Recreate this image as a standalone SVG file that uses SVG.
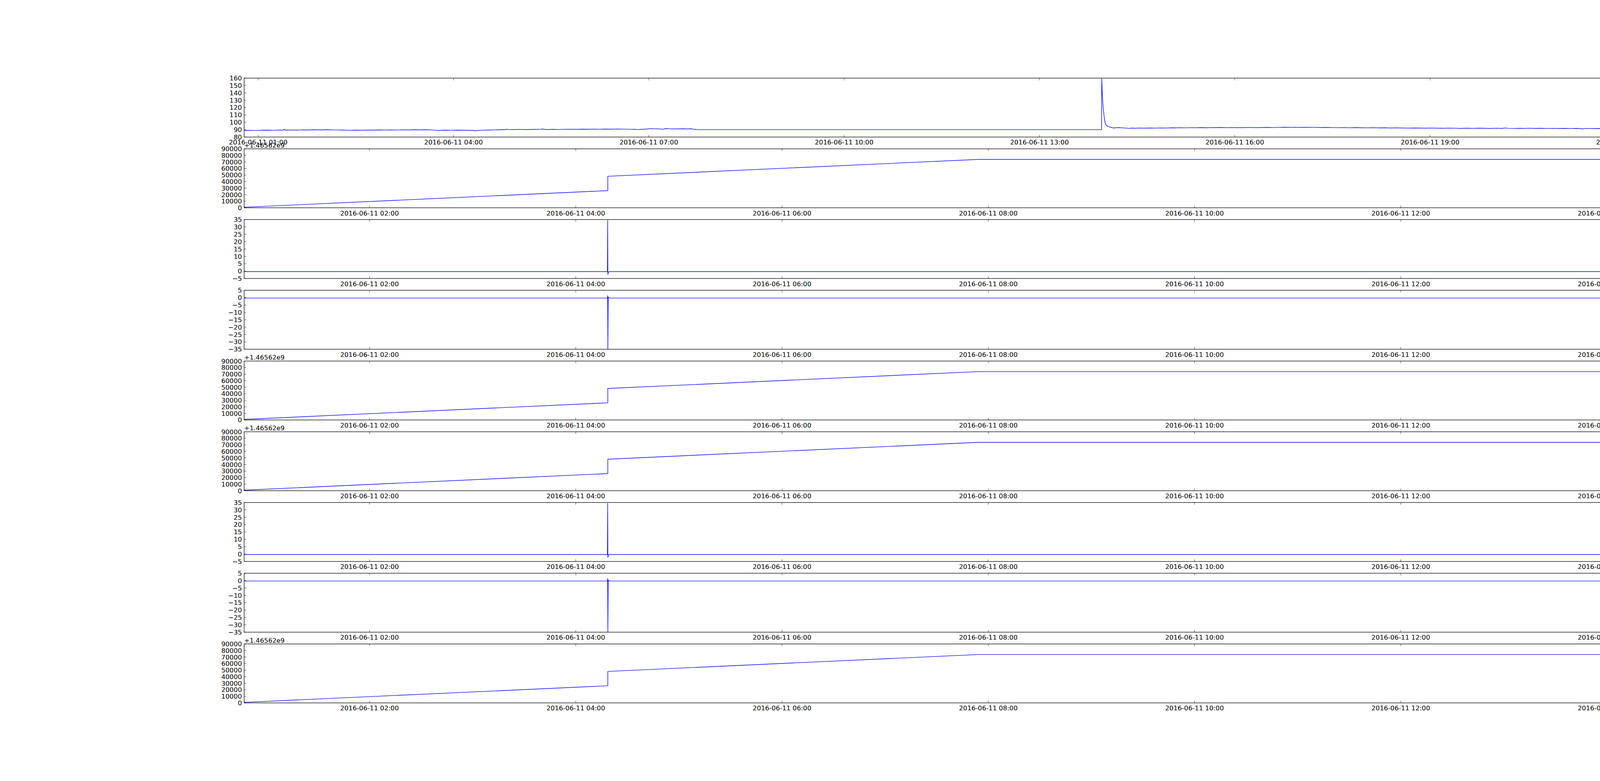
<svg xmlns="http://www.w3.org/2000/svg" width="5000" height="2000" viewBox="0 0 5000 2000">
<style>
.t{font-family:"DejaVu Sans","Liberation Sans",sans-serif;font-size:16.67px;fill:#000}
.yl{text-anchor:end}
.xl{text-anchor:middle}
.lg{font-family:"DejaVu Sans","Liberation Sans",sans-serif;font-size:20px;fill:#000}
.frame{fill:none;stroke:#000;stroke-width:1.3}
.tick{fill:none;stroke:#000;stroke-width:0.8}
.data{fill:none;stroke:#0000ff;stroke-width:1.4;stroke-linejoin:round}
.lbox{fill:#fff;stroke:#000;stroke-width:1.2}
.lline{stroke:#0000ff;stroke-width:1.4}
</style>
<defs>
<clipPath id="c"><rect x="625" y="0" width="3875" height="150.94"/></clipPath>
<path id="xt1" class="tick" d="M661,150.94v-5.56M661,0v5.56M1161,150.94v-5.56M1161,0v5.56M1661,150.94v-5.56M1661,0v5.56M2161,150.94v-5.56M2161,0v5.56M2661,150.94v-5.56M2661,0v5.56M3161,150.94v-5.56M3161,0v5.56M3661,150.94v-5.56M3661,0v5.56M4161,150.94v-5.56M4161,0v5.56"/>
<path id="xt2" class="tick" d="M946,150.94v-5.56M946,0v5.56M1474,150.94v-5.56M1474,0v5.56M2002,150.94v-5.56M2002,0v5.56M2530,150.94v-5.56M2530,0v5.56M3058,150.94v-5.56M3058,0v5.56M3586,150.94v-5.56M3586,0v5.56M4114,150.94v-5.56M4114,0v5.56"/>
<path id="yt9" class="tick" d="M625,0h5.56M4500,0h-5.56M625,18.87h5.56M4500,18.87h-5.56M625,37.74h5.56M4500,37.74h-5.56M625,56.6h5.56M4500,56.6h-5.56M625,75.47h5.56M4500,75.47h-5.56M625,94.34h5.56M4500,94.34h-5.56M625,113.21h5.56M4500,113.21h-5.56M625,132.07h5.56M4500,132.07h-5.56M625,150.94h5.56M4500,150.94h-5.56"/>
<path id="yt10" class="tick" d="M625,0h5.56M4500,0h-5.56M625,16.77h5.56M4500,16.77h-5.56M625,33.54h5.56M4500,33.54h-5.56M625,50.31h5.56M4500,50.31h-5.56M625,67.08h5.56M4500,67.08h-5.56M625,83.86h5.56M4500,83.86h-5.56M625,100.63h5.56M4500,100.63h-5.56M625,117.4h5.56M4500,117.4h-5.56M625,134.17h5.56M4500,134.17h-5.56M625,150.94h5.56M4500,150.94h-5.56"/>
<g id="xl2" class="t xl">
<text x="946" y="170.44">2016-06-11 02:00</text>
<text x="1474" y="170.44">2016-06-11 04:00</text>
<text x="2002" y="170.44">2016-06-11 06:00</text>
<text x="2530" y="170.44">2016-06-11 08:00</text>
<text x="3058" y="170.44">2016-06-11 10:00</text>
<text x="3586" y="170.44">2016-06-11 12:00</text>
<text x="4114" y="170.44">2016-06-11 14:00</text>
</g>
<g id="yla" class="t yl">
<text x="619.4" y="6">90000</text>
<text x="619.4" y="22.77">80000</text>
<text x="619.4" y="39.54">70000</text>
<text x="619.4" y="56.31">60000</text>
<text x="619.4" y="73.08">50000</text>
<text x="619.4" y="89.86">40000</text>
<text x="619.4" y="106.63">30000</text>
<text x="619.4" y="123.4">20000</text>
<text x="619.4" y="140.17">10000</text>
<text x="619.4" y="156.94">0</text>
</g>
<g id="yld" class="t yl">
<text x="619.4" y="6">35</text>
<text x="619.4" y="24.87">30</text>
<text x="619.4" y="43.74">25</text>
<text x="619.4" y="62.6">20</text>
<text x="619.4" y="81.47">15</text>
<text x="619.4" y="100.34">10</text>
<text x="619.4" y="119.21">5</text>
<text x="619.4" y="138.07">0</text>
<text x="619.4" y="156.94">−5</text>
</g>
<g id="ylh" class="t yl">
<text x="619.4" y="6">5</text>
<text x="619.4" y="24.87">0</text>
<text x="619.4" y="43.74">−5</text>
<text x="619.4" y="62.6">−10</text>
<text x="619.4" y="81.47">−15</text>
<text x="619.4" y="100.34">−20</text>
<text x="619.4" y="119.21">−25</text>
<text x="619.4" y="138.07">−30</text>
<text x="619.4" y="156.94">−35</text>
</g>
<polyline id="la" class="data" points="625,149.54 1556,107.07 1556,70.27 2505,27.07 4103,27.07 4500,9.56"/>
<polyline id="ld" class="data" points="625,133.2 1555,133.2 1555.6,2.3 1556.2,140.6 1557.5,134.4 1560,133.2 4500,133.2"/>
<polyline id="lh" class="data" points="625,20 1555,20 1555.6,13.5 1556.2,152 1557,17.5 1559,19.6 1562,20 4500,20"/>
</defs>
<rect x="0" y="0" width="5000" height="2000" fill="#fff"/>

<g id="panel-1" transform="translate(0,200)">
<g clip-path="url(#c)">
<polyline class="data" points="625,134 640,133.6 655,134.1 670,133.5 685,133.2 700,133.6 715,133.1 726,133.4 728,130.8 730,133.2 745,132.9 760,133.2 775,132.6 790,132.8 805,132.3 820,132.7 835,132.2 850,132.6 865,132.9 880,133.3 895,133.6 910,133.2 925,133.5 940,133.1 955,133.3 970,132.8 985,133.1 1000,132.7 1015,132.9 1030,132.4 1045,132.7 1060,132.2 1075,132.5 1090,132.3 1105,132.6 1115,133.6 1120,134.3 1125,133.8 1140,133.3 1155,133.6 1170,133.2 1185,133.5 1200,133.8 1214,134 1217,135.2 1220,134.2 1235,133.4 1250,133 1265,132.6 1280,132.2 1295,131.8 1298,130.6 1301,131.6 1315,131.8 1330,131.4 1345,131.7 1360,131.5 1375,131.2 1385,130.9 1388,130.2 1391,131 1400,131.8 1415,131.3 1430,131.6 1445,131.1 1460,130.9 1475,131.3 1490,130.7 1505,131 1520,130.6 1535,130.9 1550,130.5 1565,130.8 1580,130.4 1595,130.6 1610,130.9 1625,131.2 1634,131.9 1640,131.3 1655,130.5 1667,129.4 1675,129.8 1690,130.1 1696,131.4 1700,130.2 1705,129.3 1715,129.9 1725,130.3 1738,130 1750,129.7 1760,130.2 1768,129.8 1775,130.8 1785,131.6 1791,132.1 2820,132.1 2820.5,0.9 2821.5,30 2823,60 2825,85 2827,102 2830,118 2834,122.5 2840,124.8 2846,126.5 2850,127.7 2856,127.2 2865,126.7 2872,127.4 2880,127.9 2890,128.6 2900,128 2906,128.5 2915,127.9 2930,128.3 2945,127.8 2957,128.1 2970,127.6 2985,127.9 3000,127.3 3008,127.5 3020,127.1 3035,127.4 3050,126.9 3059,127.1 3075,126.8 3090,127.2 3100,126.6 3110,126.8 3125,126.5 3140,126.9 3155,126.6 3170,127 3185,126.7 3200,126.4 3215,126.8 3230,126.5 3245,126.2 3260,126.6 3275,126.1 3289,125.8 3300,126.2 3315,125.9 3330,126.3 3345,126 3365,126.1 3380,126.5 3395,126.2 3410,126.6 3425,126.9 3440,126.7 3455,127.1 3470,126.8 3485,127.2 3500,127.4 3515,127.1 3530,127.5 3545,127.3 3560,127.7 3575,127.4 3590,127.8 3605,128.1 3620,127.7 3635,128 3650,128.3 3665,127.9 3680,128.2 3695,128.5 3710,128.1 3725,128.4 3740,128.7 3755,128.3 3770,128.6 3785,128.2 3800,128.5 3815,128.8 3830,128.4 3845,128.7 3855,127.6 3860,128.6 3875,128.9 3890,128.5 3900,128.7 3915,128.4 3930,128.8 3945,128.5 3960,128.9 3975,128.6 3990,129 4005,128.7 4020,129.1 4035,128.8 4048,129.2 4051,130.8 4054,129.1 4065,128.9 4080,129.3 4095,129 4110,129.4 4125,129.1 4140,129.5 4155,129.2 4164,129.6 4167,131 4170,129.4 4185,129.1 4200,128.8 4215,128.5 4230,128.2 4237,128 4250,128.4 4265,128.2 4280,128.6 4286,130.2 4290,128.5 4300,127.8 4307,127.3 4320,127.7 4335,127.9 4350,128.2 4365,128 4380,128.4 4391,128.3 4405,128.7 4420,128.9 4435,129.2 4450,129 4465,129.5 4480,129.7 4490,130.1 4500,130"/>
</g>
<rect class="frame" x="625" y="0" width="3875" height="150.94"/>
<use href="#xt1"/>
<use href="#yt9"/>
<g class="t yl">
<text x="619.4" y="6">160</text>
<text x="619.4" y="24.87">150</text>
<text x="619.4" y="43.74">140</text>
<text x="619.4" y="62.6">130</text>
<text x="619.4" y="81.47">120</text>
<text x="619.4" y="100.34">110</text>
<text x="619.4" y="119.21">100</text>
<text x="619.4" y="138.07">90</text>
<text x="619.4" y="156.94">80</text>
</g>
<g class="t xl">
<text x="661" y="170.44">2016-06-11 01:00</text>
<text x="1161" y="170.44">2016-06-11 04:00</text>
<text x="1661" y="170.44">2016-06-11 07:00</text>
<text x="2161" y="170.44">2016-06-11 10:00</text>
<text x="2661" y="170.44">2016-06-11 13:00</text>
<text x="3161" y="170.44">2016-06-11 16:00</text>
<text x="3661" y="170.44">2016-06-11 19:00</text>
<text x="4161" y="170.44">2016-06-11 22:00</text>
</g>
</g>

<g id="panel-2" transform="translate(0,381.13)">
<g clip-path="url(#c)"><use href="#la"/></g>
<rect class="frame" x="625" y="0" width="3875" height="150.94"/>
<use href="#xt2"/><use href="#yt10"/><use href="#yla"/><use href="#xl2"/>
<text class="t" x="625" y="-3.5">+1.46562e9</text>
<g id="legend-1"><rect class="lbox" x="4254.3" y="10.5" width="236.1" height="35.7"/><line class="lline" x1="4267.8" y1="26.3" x2="4297.1" y2="26.3"/><text class="lg" x="4318.8" y="33.2">(1) symmetric_a</text></g>
</g>

<g id="panel-3" transform="translate(0,562.26)">
<g clip-path="url(#c)"><use href="#ld"/></g>
<rect class="frame" x="625" y="0" width="3875" height="150.94"/>
<use href="#xt2"/><use href="#yt9"/><use href="#yld"/><use href="#xl2"/>
<g id="legend-2"><rect class="lbox" x="4253.9" y="10.5" width="236.5" height="35.7"/><line class="lline" x1="4267.4" y1="26.3" x2="4296.7" y2="26.3"/><text class="lg" x="4318.4" y="33.2">(2) symmetric_d</text></g>
</g>

<g id="panel-4" transform="translate(0,743.4)">
<g clip-path="url(#c)"><use href="#lh"/></g>
<rect class="frame" x="625" y="0" width="3875" height="150.94"/>
<use href="#xt2"/><use href="#yt9"/><use href="#ylh"/><use href="#xl2"/>
<g id="legend-3"><rect class="lbox" x="4253.9" y="10.5" width="236.5" height="35.7"/><line class="lline" x1="4267.4" y1="26.3" x2="4296.7" y2="26.3"/><text class="lg" x="4318.4" y="33.2">(3) symmetric_h</text></g>
</g>

<g id="panel-5" transform="translate(0,924.53)">
<g clip-path="url(#c)"><use href="#la"/></g>
<rect class="frame" x="625" y="0" width="3875" height="150.94"/>
<use href="#xt2"/><use href="#yt10"/><use href="#yla"/><use href="#xl2"/>
<text class="t" x="625" y="-3.5">+1.46562e9</text>
<g id="legend-4"><rect class="lbox" x="4254.7" y="10.5" width="235.7" height="35.7"/><line class="lline" x1="4268.2" y1="26.3" x2="4297.5" y2="26.3"/><text class="lg" x="4319.2" y="33.2">(4) symmetric_v</text></g>
</g>

<g id="panel-6" transform="translate(0,1105.66)">
<g clip-path="url(#c)"><use href="#la"/></g>
<rect class="frame" x="625" y="0" width="3875" height="150.94"/>
<use href="#xt2"/><use href="#yt10"/><use href="#yla"/><use href="#xl2"/>
<text class="t" x="625" y="-3.5">+1.46562e9</text>
<g id="legend-5"><rect class="lbox" x="4280.2" y="10.5" width="210.2" height="35.7"/><line class="lline" x1="4293.7" y1="26.3" x2="4323" y2="26.3"/><text class="lg" x="4344.7" y="33.2">(5) periodic_a</text></g>
</g>

<g id="panel-7" transform="translate(0,1286.79)">
<g clip-path="url(#c)"><use href="#ld"/></g>
<rect class="frame" x="625" y="0" width="3875" height="150.94"/>
<use href="#xt2"/><use href="#yt9"/><use href="#yld"/><use href="#xl2"/>
<g id="legend-6"><rect class="lbox" x="4279.8" y="10.5" width="210.6" height="35.7"/><line class="lline" x1="4293.3" y1="26.3" x2="4322.6" y2="26.3"/><text class="lg" x="4344.3" y="33.2">(6) periodic_d</text></g>
</g>

<g id="panel-8" transform="translate(0,1467.92)">
<g clip-path="url(#c)"><use href="#lh"/></g>
<rect class="frame" x="625" y="0" width="3875" height="150.94"/>
<use href="#xt2"/><use href="#yt9"/><use href="#ylh"/><use href="#xl2"/>
<g id="legend-7"><rect class="lbox" x="4279.8" y="10.5" width="210.6" height="35.7"/><line class="lline" x1="4293.3" y1="26.3" x2="4322.6" y2="26.3"/><text class="lg" x="4344.3" y="33.2">(7) periodic_h</text></g>
</g>

<g id="panel-9" transform="translate(0,1649.06)">
<g clip-path="url(#c)"><use href="#la"/></g>
<rect class="frame" x="625" y="0" width="3875" height="150.94"/>
<use href="#xt2"/><use href="#yt10"/><use href="#yla"/><use href="#xl2"/>
<text class="t" x="625" y="-3.5">+1.46562e9</text>
<g id="legend-8"><rect class="lbox" x="4280.6" y="10.5" width="209.8" height="35.7"/><line class="lline" x1="4294.1" y1="26.3" x2="4323.4" y2="26.3"/><text class="lg" x="4345.1" y="33.2">(8) periodic_v</text></g>
</g>
</svg>
